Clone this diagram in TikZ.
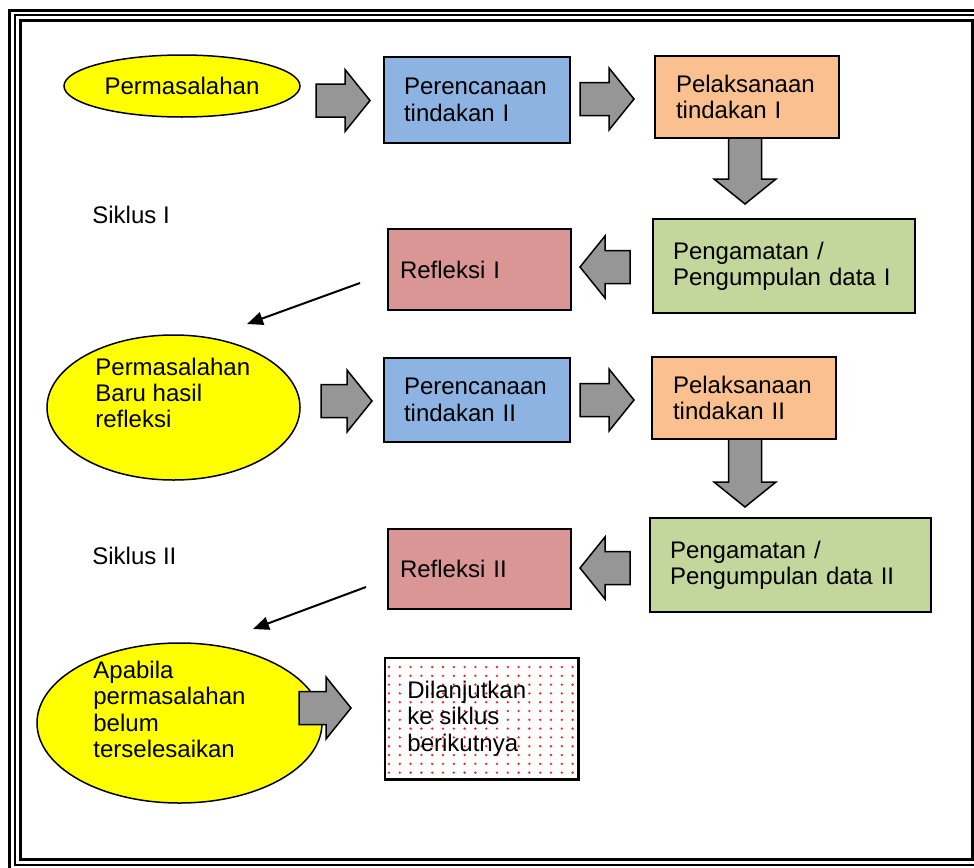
\documentclass[tikz,border=0pt]{standalone}
\usepackage{fontspec}
\setmainfont{Liberation Sans}
\usetikzlibrary{shapes.geometric,arrows.meta}
\definecolor{cyellow}{HTML}{FFFF00}
\definecolor{cblue}{HTML}{8DB3E2}
\definecolor{corange}{HTML}{FAC090}
\definecolor{cgreen}{HTML}{C3D69B}
\definecolor{cred}{HTML}{D99694}
\definecolor{cgray}{HTML}{969696}
\definecolor{cdot}{HTML}{FF2020}
\newcommand\barrow[4]{%
  \begin{scope}[shift={(#1,#2)},rotate=#3]
    \filldraw[barrowstyle] (0,-16.5) -- ({#4-25},-16.5) -- ({#4-25},-31) -- (#4,0)
      -- ({#4-25},31) -- ({#4-25},16.5) -- (0,16.5) -- cycle;
  \end{scope}}
\begin{document}
\begin{tikzpicture}[x=0.5pt,y=-0.5pt,
  txt/.style={font=\fontsize{12}{13.2}\selectfont, inner sep=0pt, align=left},
  box/.style={draw=black, line width=0.75pt, rectangle, inner ysep=0pt,
    font=\fontsize{12}{13.2}\selectfont, align=left},
  oval/.style={draw=black, line width=0.75pt, ellipse, fill=cyellow, inner sep=0pt,
    font=\fontsize{12}{13.2}\selectfont},
  barrowstyle/.style={draw=black, line width=0.75pt, fill=cgray, line join=miter},
  linearrow/.style={draw=black, line width=1pt, -{Triangle[length=8pt,width=6.5pt]}},
  frameline/.style={draw=black}]
\useasboundingbox (0,0) rectangle (974,867);
% frame
\begin{scope}
  \clip (0,0) rectangle (974,867);
  \draw[frameline, line width=1.5pt] (9.5,10.5) rectangle (984,871);
  \draw[frameline, line width=1pt] (14.5,15) rectangle (978,865);
  \draw[frameline, line width=1.5pt] (20.5,20.5) rectangle (972,859.5);
\end{scope}
% row 1
\node[oval, minimum width=118pt, minimum height=31pt] (e1) at (182,86) {Permasalahan};
\node[box, fill=cblue, minimum width=93pt, minimum height=43pt, text width=73pt, inner xsep=10pt]
  (b1) at (477,100) {Perencanaan\\tindakan I};
\node[box, fill=corange, minimum width=92pt, minimum height=41pt, text width=71pt, inner xsep=10.5pt]
  (o1) at (747,97) {Pelaksanaan\\tindakan I};
\node[box, fill=cgreen, minimum width=131pt, minimum height=47pt, text width=111pt, inner xsep=10pt]
  (g1) at (784,266) {Pengamatan /\\Pengumpulan data I};
\node[box, fill=cred, minimum width=91.5pt, minimum height=40.5pt, text width=79.5pt, inner xsep=6pt]
  (r1) at (479.5,269.5) {Refleksi I};
\node[txt, anchor=west] (s1) at (92,215) {Siklus I};
% row 2
\node[oval, minimum width=126.5pt, minimum height=72.5pt] (e2) at (173.5,407.5) {};
\node[txt, anchor=west] (e2t) at (95,393) {Permasalahan\\Baru hasil\\refleksi};
\node[box, fill=cblue, minimum width=93pt, minimum height=42pt, text width=73pt, inner xsep=10pt]
  (b2) at (477,400) {Perencanaan\\tindakan II};
\node[box, fill=corange, minimum width=92pt, minimum height=41pt, text width=71pt, inner xsep=10pt]
  (o2) at (744,398) {Pelaksanaan\\tindakan II};
\node[box, fill=cgreen, minimum width=140.5pt, minimum height=47pt, text width=120.5pt, inner xsep=10pt]
  (g2) at (790.5,565) {Pengamatan /\\Pengumpulan data II};
\node[box, fill=cred, minimum width=91.5pt, minimum height=40pt, text width=79.5pt, inner xsep=6pt]
  (r2) at (479.5,569) {Refleksi II};
\node[txt, anchor=west] (s2) at (92,556) {Siklus II};
% row 3
\node[oval, minimum width=142.5pt, minimum height=80pt] (e3) at (179.5,723) {};
\node[txt, anchor=west] (e3t) at (93,709.5) {Apabila\\permasalahan\\belum\\terselesaikan};
\node[box, fill=white, minimum width=96.5pt, minimum height=60.5pt] (d1) at (481.5,718.5) {};
\begin{scope}
  \clip (386,659) rectangle (577,778);
  \foreach \i in {0,...,18} {
    \foreach \j in {0,...,14} {
      \fill[cdot] ({389+10.8*\i},{667+8.8*\j}) circle (1.3);
    }
  }
\end{scope}
\draw[line width=0.75pt] (d1.south west) rectangle (d1.north east);
\node[txt, anchor=west] (d1t) at (407,718.5) {Dilanjutkan\\ke siklus\\berikutnya};
% block arrows
\barrow{316}{100.5}{0}{54}
\barrow{580}{99}{0}{54}
\barrow{745}{138}{-90}{66}
\barrow{630}{267}{180}{50}
\barrow{321}{401}{0}{51}
\barrow{580}{400}{0}{54}
\barrow{745}{439}{-90}{68}
\barrow{630}{568}{180}{50}
\barrow{299}{708}{0}{52}
% line arrows
\coordinate (la1s) at (360,283);
\coordinate (la1e) at (247,324);
\coordinate (la2s) at (366,587);
\coordinate (la2e) at (253,629);
\draw[linearrow] (la1s) -- (la1e);
\draw[linearrow] (la2s) -- (la2e);
\end{tikzpicture}
\end{document}
